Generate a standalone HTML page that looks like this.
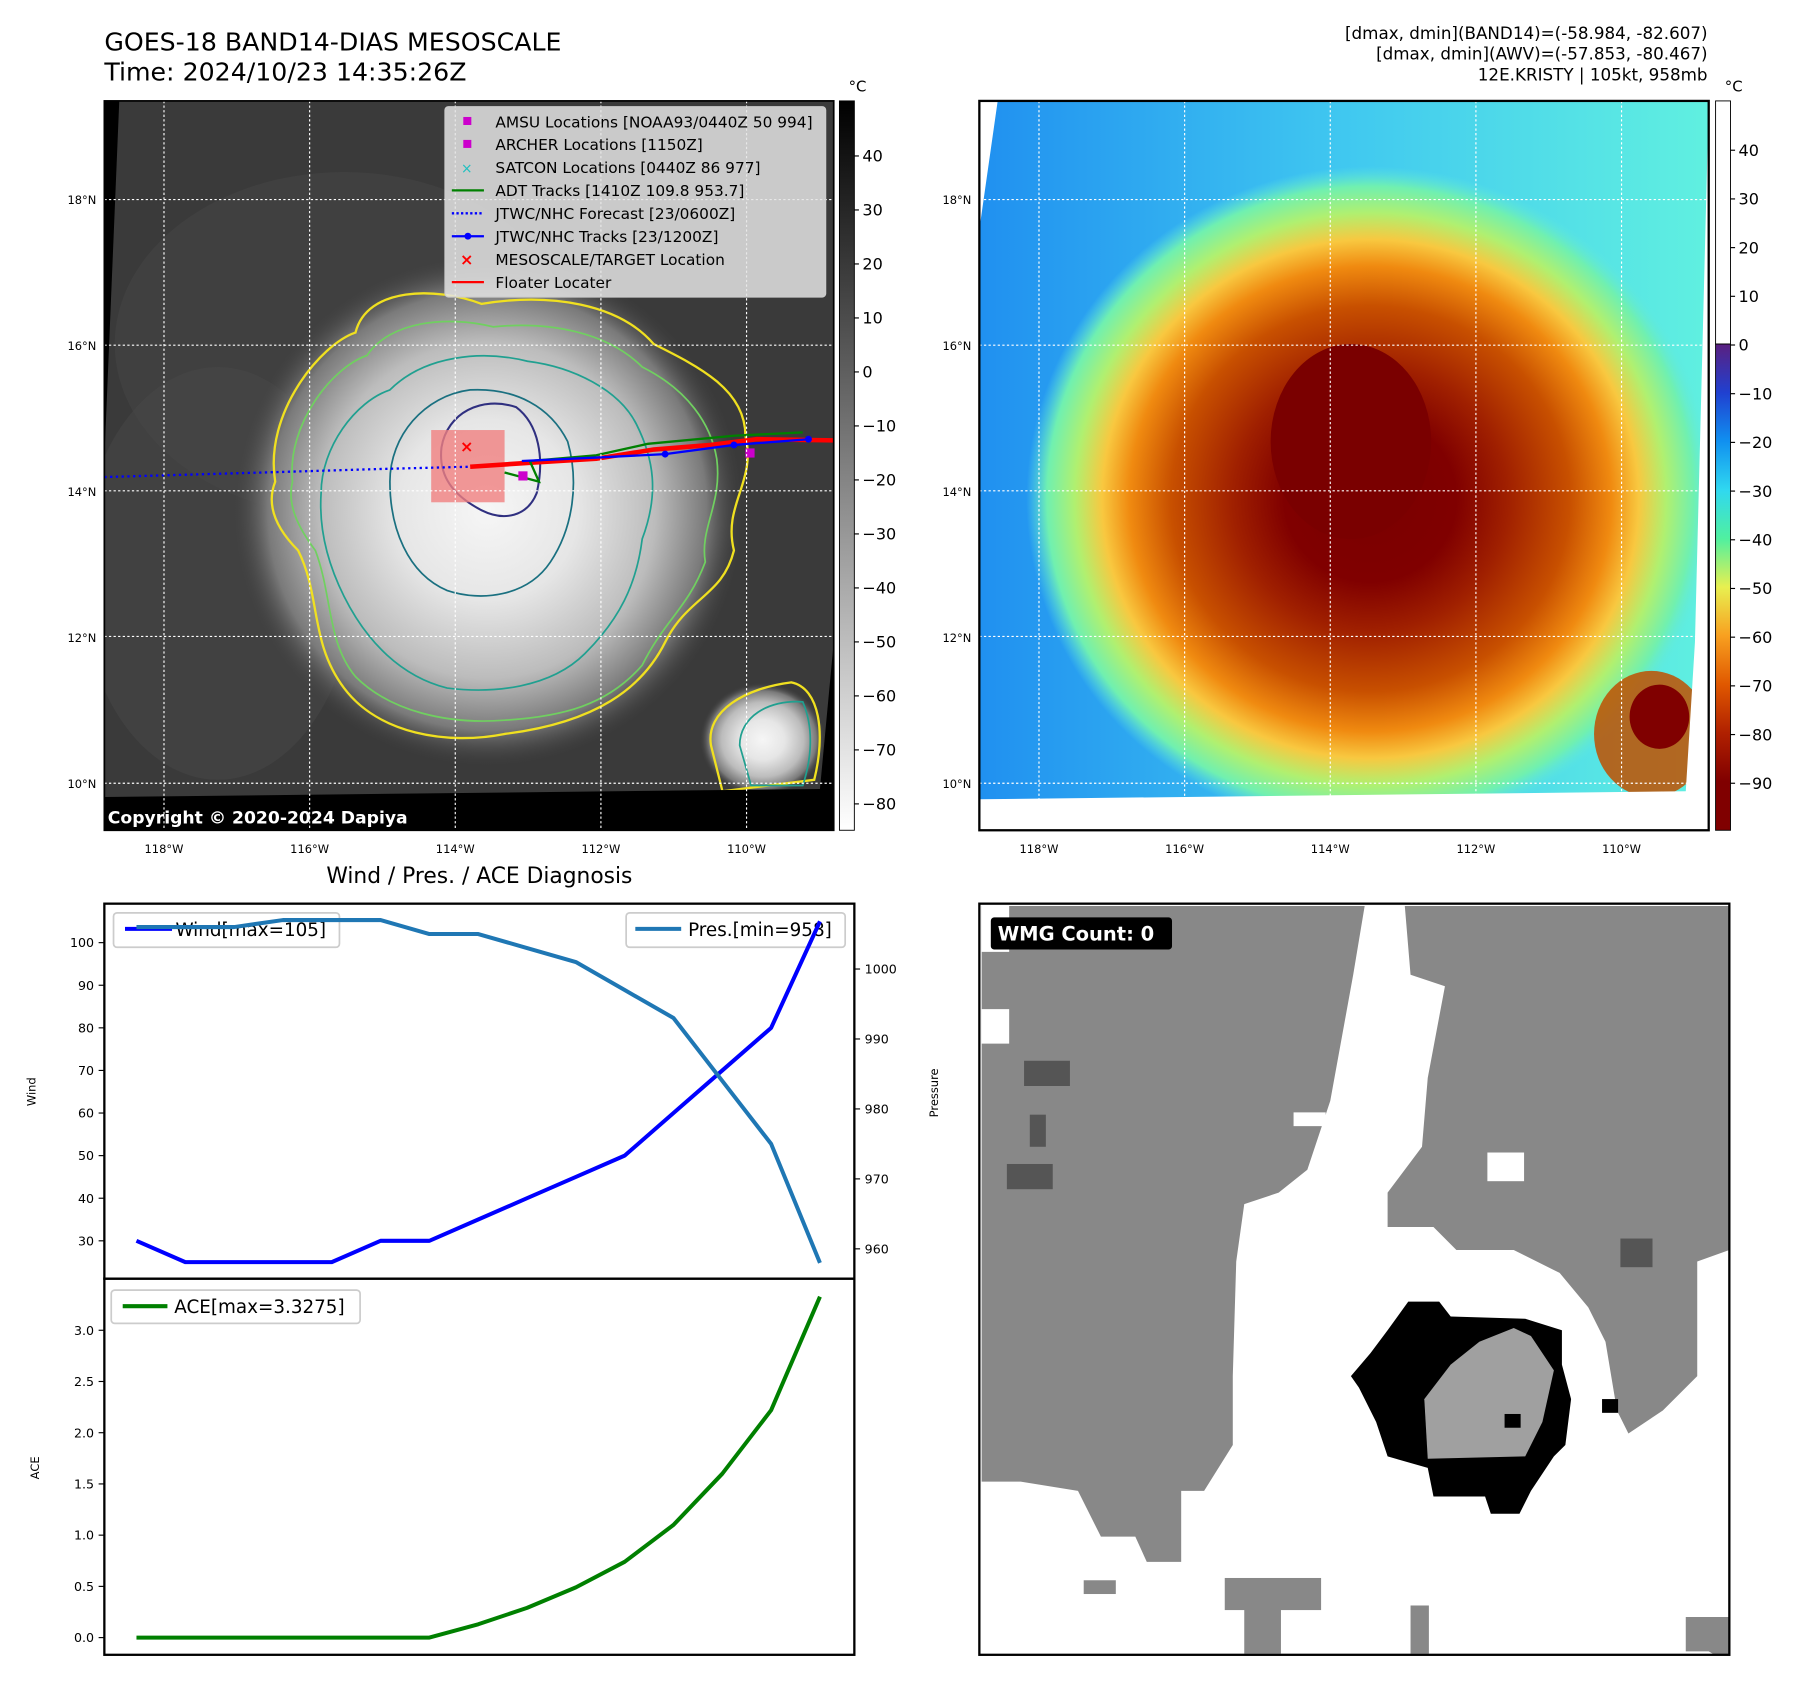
<!DOCTYPE html>
<html><head><meta charset="utf-8">
<style>
html,body{margin:0;padding:0;background:#fff;overflow:hidden}
#root{position:absolute;left:0;top:0;width:1567px;height:1474px;transform:scale(1.14678);transform-origin:0 0;font-family:"DejaVu Sans","Liberation Sans",sans-serif}
svg text{font-family:"DejaVu Sans","Liberation Sans",sans-serif}
</style></head><body>
<div id="root">
<svg id="fig" width="1567" height="1474" viewBox="0 0 1567 1474" xmlns="http://www.w3.org/2000/svg">
<defs>
<radialGradient id="cloud" cx="0.5" cy="0.5" r="0.5">
<stop offset="0" stop-color="#f6f6f6"/><stop offset="0.35" stop-color="#e6e6e6"/><stop offset="0.65" stop-color="#bcbcbc"/><stop offset="0.85" stop-color="#7a7a7a"/><stop offset="1" stop-color="#3a3a3a" stop-opacity="0"/>
</radialGradient>
<radialGradient id="storm" cx="0.5" cy="0.5" r="0.5">
<stop offset="0" stop-color="#7a0000"/><stop offset="0.25" stop-color="#800000"/><stop offset="0.4" stop-color="#a02000"/><stop offset="0.58" stop-color="#c85000"/><stop offset="0.7" stop-color="#f08a10"/><stop offset="0.78" stop-color="#f8c840"/><stop offset="0.86" stop-color="#b0f070"/><stop offset="0.94" stop-color="#70f0b0"/><stop offset="1" stop-color="#60e8e0" stop-opacity="0"/>
</radialGradient>
<linearGradient id="bgblue" x1="0" y1="0" x2="1" y2="0">
<stop offset="0" stop-color="#2090f0"/><stop offset="0.5" stop-color="#40c8f0"/><stop offset="1" stop-color="#60f0e0"/>
</linearGradient>
<linearGradient id="cbgray" x1="0" y1="0" x2="0" y2="1">
<stop offset="0" stop-color="#000"/><stop offset="1" stop-color="#fff"/>
</linearGradient>
<linearGradient id="cbturbo" x1="0" y1="0" x2="0" y2="1">
<stop offset="0" stop-color="#5a2080"/><stop offset="0.1" stop-color="#2040d0"/><stop offset="0.2" stop-color="#1090f0"/><stop offset="0.3" stop-color="#30d8f0"/><stop offset="0.4" stop-color="#50f0a0"/><stop offset="0.5" stop-color="#e8f050"/><stop offset="0.6" stop-color="#f8a020"/><stop offset="0.7" stop-color="#e05800"/><stop offset="0.8" stop-color="#b02000"/><stop offset="0.9" stop-color="#800000"/><stop offset="1" stop-color="#800000"/>
</linearGradient>
<clipPath id="clipL"><rect x="91" y="88" width="636" height="636"/></clipPath>
<clipPath id="clipR"><rect x="854" y="88" width="636" height="636"/></clipPath>
</defs>

<text x="91" y="44" font-size="22">GOES-18 BAND14-DIAS MESOSCALE</text>
<text x="91" y="70" font-size="22">Time: 2024/10/23 14:35:26Z</text>
<g font-size="14.6" text-anchor="end">
<text x="1489" y="34">[dmax, dmin](BAND14)=(-58.984, -82.607)</text>
<text x="1489" y="52">[dmax, dmin](AWV)=(-57.853, -80.467)</text>
<text x="1489" y="70">12E.KRISTY | 105kt, 958mb</text>
</g>

<!-- LEFT MAP -->
<g clip-path="url(#clipL)">
<rect x="91" y="88" width="636" height="636" fill="#3a3a3a"/>
<ellipse cx="300" cy="300" rx="200" ry="150" fill="#444" opacity="0.6"/>
<ellipse cx="190" cy="500" rx="120" ry="180" fill="#484848" opacity="0.5"/>
<ellipse cx="425" cy="445" rx="225" ry="225" fill="url(#cloud)"/>
<ellipse cx="665" cy="645" rx="55" ry="50" fill="url(#cloud)"/>
<path d="M240,420 C230,360 280,300 310,290 C320,250 380,250 420,265 C480,255 540,265 570,300 C610,320 650,340 650,380 C660,420 630,440 640,480 C630,520 600,520 580,560 C560,600 520,630 440,640 C390,650 330,640 300,600 C270,560 280,520 260,480 C240,460 232,440 240,420Z" fill="none" stroke="#f0e020" stroke-width="2"/>
<path d="M255,420 C250,370 290,320 320,310 C340,280 390,275 430,285 C480,280 530,290 560,320 C600,340 620,370 625,400 C630,440 610,460 615,490 C600,530 580,540 560,580 C530,615 490,625 440,628 C390,632 340,620 310,590 C285,560 290,520 275,480 C260,460 250,440 255,420Z" fill="none" stroke="#70d060" stroke-width="1.5"/>
<path d="M280,430 C280,390 310,350 340,340 C370,310 420,305 460,315 C500,320 540,340 555,370 C570,400 575,430 560,470 C555,510 540,540 510,570 C480,600 430,605 390,600 C350,590 320,560 300,520 C285,490 278,460 280,430Z" fill="none" stroke="#20a090" stroke-width="1.5"/>
<path d="M340,420 C340,380 370,345 410,340 C450,338 480,355 495,385 C505,420 500,460 480,490 C460,520 420,525 390,515 C355,500 340,460 340,420Z" fill="none" stroke="#1a7080" stroke-width="1.5"/>
<path d="M385,390 C390,360 420,345 450,355 C470,370 475,400 468,430 C460,450 440,455 420,445 C395,432 382,415 385,390Z" fill="none" stroke="#303080" stroke-width="1.8"/>
<path d="M620,650 C615,620 650,600 690,595 C715,600 720,640 710,680 L630,690Z" fill="none" stroke="#f0e020" stroke-width="2"/>
<path d="M645,650 C645,625 670,610 700,612 C712,640 705,670 700,685 L655,685Z" fill="none" stroke="#20a090" stroke-width="1.5"/>
<polygon points="91,88 104,88 91,400" fill="#000"/>
<polygon points="91,695 715,688 727,560 727,724 91,724" fill="#000"/>
<rect x="376" y="375" width="64" height="63" fill="#f08080" opacity="0.8"/>
<polyline points="91,416 230,412 330,409 410,407" fill="none" stroke="#0000ff" stroke-width="2" stroke-dasharray="2,3"/>
<polyline points="410,407 470,403 520,400 570,392 620,388 660,383 727,384" fill="none" stroke="#ff0000" stroke-width="4"/>
<polyline points="440,412 470,420 462,402 520,397 565,387 640,380 700,377" fill="none" stroke="#008000" stroke-width="2"/>
<polyline points="455,402 520,399 580,396 640,388 705,383" fill="none" stroke="#0000ff" stroke-width="2"/>
<circle cx="580" cy="396" r="3" fill="#0000ff"/><circle cx="640" cy="388" r="3" fill="#0000ff"/><circle cx="705" cy="383" r="3" fill="#0000ff"/>
<rect x="452" y="411" width="8" height="8" fill="#cc00cc"/><rect x="650" y="391" width="8" height="8" fill="#cc00cc"/>
<text x="407" y="394" font-size="14" fill="#ff0000" text-anchor="middle" font-weight="bold">×</text>
<g stroke="#fff" stroke-width="1" stroke-dasharray="2,2">
<line x1="143" y1="88" x2="143" y2="724"/><line x1="270" y1="88" x2="270" y2="724"/><line x1="397" y1="88" x2="397" y2="724"/><line x1="524" y1="88" x2="524" y2="724"/><line x1="651" y1="88" x2="651" y2="724"/>
<line x1="91" y1="174" x2="727" y2="174"/><line x1="91" y1="301" x2="727" y2="301"/><line x1="91" y1="428" x2="727" y2="428"/><line x1="91" y1="555" x2="727" y2="555"/><line x1="91" y1="683" x2="727" y2="683"/>
</g>
<text x="94" y="718" font-size="15" font-weight="bold" fill="#fff">Copyright © 2020-2024 Dapiya</text>
</g>
<rect x="91" y="88" width="636" height="636" fill="none" stroke="#000" stroke-width="1.5"/>
<g font-size="13.4">
<rect x="388" y="93" width="332" height="166" rx="3" fill="#e4e4e4" fill-opacity="0.85" stroke="#ccc"/>
<rect x="404" y="102" width="7" height="7" fill="#cc00cc"/><text x="432" y="111">AMSU Locations [NOAA93/0440Z 50 994]</text>
<rect x="404" y="122" width="7" height="7" fill="#cc00cc"/><text x="432" y="131">ARCHER Locations [1150Z]</text>
<text x="407" y="151" fill="#20c0c0" text-anchor="middle" font-size="12">×</text><text x="432" y="151">SATCON Locations [0440Z 86 977]</text>
<line x1="394" y1="166" x2="422" y2="166" stroke="#008000" stroke-width="2"/><text x="432" y="171">ADT Tracks [1410Z 109.8 953.7]</text>
<line x1="394" y1="186" x2="422" y2="186" stroke="#0000ff" stroke-width="2" stroke-dasharray="2,2"/><text x="432" y="191">JTWC/NHC Forecast [23/0600Z]</text>
<line x1="394" y1="206" x2="422" y2="206" stroke="#0000ff" stroke-width="2"/><circle cx="408" cy="206" r="3" fill="#0000ff"/><text x="432" y="211">JTWC/NHC Tracks [23/1200Z]</text>
<text x="407" y="231" fill="#ff0000" text-anchor="middle" font-weight="bold" font-size="14">×</text><text x="432" y="231">MESOSCALE/TARGET Location</text>
<line x1="394" y1="246" x2="422" y2="246" stroke="#ff0000" stroke-width="2"/><text x="432" y="251">Floater Locater</text>
</g>
<rect x="732" y="88" width="13" height="636" fill="url(#cbgray)" stroke="#000" stroke-width="0.8"/>
<text x="740" y="80" font-size="13">°C</text>
<g id="cbL" font-size="14"></g>

<!-- RIGHT MAP -->
<g clip-path="url(#clipR)">
<rect x="854" y="88" width="636" height="636" fill="url(#bgblue)"/>
<ellipse cx="1195" cy="435" rx="300" ry="290" fill="url(#storm)"/>
<ellipse cx="1440" cy="640" rx="50" ry="55" fill="#c05000" opacity="0.85"/>
<ellipse cx="1447" cy="625" rx="26" ry="28" fill="#800000"/>
<ellipse cx="1178" cy="385" rx="70" ry="85" fill="#7a0000"/>
<polygon points="854,88 870,88 854,200" fill="#fff"/>
<polygon points="854,697 1470,690 1478,560 1490,88 1490,724 854,724" fill="#fff"/>
<g stroke="#fff" stroke-width="1" stroke-dasharray="2,2">
<line x1="906" y1="88" x2="906" y2="724"/><line x1="1033" y1="88" x2="1033" y2="724"/><line x1="1160" y1="88" x2="1160" y2="724"/><line x1="1287" y1="88" x2="1287" y2="724"/><line x1="1414" y1="88" x2="1414" y2="724"/>
<line x1="854" y1="174" x2="1490" y2="174"/><line x1="854" y1="301" x2="1490" y2="301"/><line x1="854" y1="428" x2="1490" y2="428"/><line x1="854" y1="555" x2="1490" y2="555"/><line x1="854" y1="683" x2="1490" y2="683"/>
</g>
</g>
<rect x="854" y="88" width="636" height="636" fill="none" stroke="#000" stroke-width="2"/>
<rect x="1496" y="88" width="13" height="212" fill="#fff" stroke="#000" stroke-width="0.8"/>
<rect x="1496" y="300" width="13" height="424" fill="url(#cbturbo)" stroke="#000" stroke-width="0.8"/>
<text x="1504" y="80" font-size="13">°C</text>
<g id="cbR" font-size="14"></g>
<g id="mapTicks" font-size="10"></g>

<!-- WMG -->
<g>
<rect x="854" y="788" width="654" height="655" fill="#fff"/>
<polygon points="856,790 1190,790 1180,850 1160,960 1140,1020 1115,1040 1085,1050 1078,1100 1075,1200 1075,1260 1050,1300 1030,1300 1030,1362 1000,1362 990,1340 960,1340 940,1300 890,1292 856,1292" fill="#888"/>
<polygon points="856,790 880,790 880,830 856,830" fill="#fff"/>
<polygon points="856,880 880,880 880,910 856,910" fill="#fff"/>
<polygon points="1225,790 1508,790 1508,1090 1480,1100 1480,1200 1450,1230 1420,1250 1410,1230 1405,1200 1400,1170 1385,1140 1360,1110 1320,1090 1270,1090 1250,1070 1210,1070 1210,1040 1240,1000 1245,940 1260,860 1230,850" fill="#888"/>
<rect x="1297" y="1005" width="32" height="25" fill="#fff"/><rect x="1128" y="970" width="28" height="12" fill="#fff"/>
<rect x="1413" y="1080" width="28" height="25" fill="#555"/><rect x="893" y="925" width="40" height="22" fill="#555"/><rect x="878" y="1015" width="40" height="22" fill="#555"/><rect x="898" y="972" width="14" height="28" fill="#555"/>
<rect x="1068" y="1376" width="84" height="28" fill="#888"/><rect x="1085" y="1400" width="32" height="42" fill="#888"/><rect x="945" y="1378" width="28" height="12" fill="#888"/><rect x="1230" y="1400" width="16" height="42" fill="#888"/>
<polygon points="1470,1410 1508,1410 1508,1443 1495,1443 1490,1440 1470,1440" fill="#888"/>
<polygon points="1228,1135 1255,1135 1265,1148 1330,1150 1362,1160 1362,1190 1370,1220 1365,1260 1355,1270 1335,1300 1325,1320 1300,1320 1295,1305 1250,1305 1245,1280 1210,1270 1200,1240 1185,1210 1178,1200 1195,1180 1210,1160" fill="#000"/>
<polygon points="1320,1158 1335,1165 1355,1195 1345,1240 1330,1270 1245,1272 1242,1220 1265,1190 1290,1170" fill="#a0a0a0"/>
<rect x="1312" y="1233" width="14" height="12" fill="#000"/><rect x="1397" y="1220" width="14" height="12" fill="#000"/>
<rect x="854" y="788" width="654" height="655" fill="none" stroke="#000" stroke-width="2"/>
<rect x="864" y="800" width="158" height="28" rx="3" fill="#000"/>
<text x="870" y="820" font-size="17" font-weight="bold" fill="#fff">WMG Count: 0</text>
</g>

<!-- DIAGNOSIS CHART -->
<text x="418" y="770" font-size="19" text-anchor="middle">Wind / Pres. / ACE Diagnosis</text>
<g id="chart"></g>
</svg>
</div>
<script>
const windVals=[30,25,25,25,25,30,30,35,40,45,50,60,70,80,105];
const presVals=[1006,1006,1006,1007,1007,1007,1005,1005,1003,1001,997,993,984,975,958];
const aceVals=[0,0,0,0,0,0,0,0.13,0.29,0.49,0.74,1.1,1.6,2.22,3.3275];
const windTicks=[30,40,50,60,70,80,90,100];
const presTicks=[960,970,980,990,1000];
const aceTicks=[0,0.5,1.0,1.5,2.0,2.5,3.0];
const cbLTicks=[40,30,20,10,0,-10,-20,-30,-40,-50,-60,-70,-80];
const cbRTicks=[40,30,20,10,0,-10,-20,-30,-40,-50,-60,-70,-80,-90];
const latTicks=[18,16,14,12,10];
const lonTicks=[118,116,114,112,110];

const NS='http://www.w3.org/2000/svg';
function mk(tag,attrs,parent,txt){const e=document.createElementNS(NS,tag);for(const k in attrs)e.setAttribute(k,attrs[k]);if(txt!==undefined)e.textContent=txt;parent.appendChild(e);return e;}
const xS=i=>119+i*(715-119)/(windVals.length-1);
const yW=v=>1082+(v-30)*(822-1082)/70;
const yP=v=>1089+(v-960)*(845-1089)/40;
const yA=v=>1428+(v-0)*(1160-1428)/3;
const yLat=v=>683+(v-10)*(174-683)/8;
const xLonL=v=>651+(v-110)*(143-651)/8;
const yCbL=v=>701+(v+80)*(136-701)/120;
const yCbR=v=>683+(v+90)*(131-683)/130;

const ch=document.getElementById('chart');
let r1=mk('rect',{x:91,y:788,width:654,height:327,fill:'none',stroke:'#000','stroke-width':2},ch);


let r2=mk('rect',{x:91,y:1115,width:654,height:328,fill:'none',stroke:'#000','stroke-width':2},ch);


windTicks.forEach(t=>{const y=yW(t);mk('line',{x1:86,y1:y,x2:91,y2:y,stroke:'#000'},ch);mk('text',{x:82,y:y+4,'font-size':11,'text-anchor':'end'},ch,t);});
presTicks.forEach(t=>{const y=yP(t);mk('line',{x1:745,y1:y,x2:750,y2:y,stroke:'#000'},ch);mk('text',{x:754,y:y+4,'font-size':11},ch,t);});
aceTicks.forEach(t=>{const y=yA(t);mk('line',{x1:86,y1:y,x2:91,y2:y,stroke:'#000'},ch);mk('text',{x:82,y:y+4,'font-size':11,'text-anchor':'end'},ch,t.toFixed(1));});
let t1=mk('text',{x:0,y:0,'font-size':10,'text-anchor':'middle',transform:'translate(31,952) rotate(-90)'},ch,'Wind');


let t2=mk('text',{x:0,y:0,'font-size':10,'text-anchor':'middle',transform:'translate(818,953) rotate(-90)'},ch,'Pressure');


let t3=mk('text',{x:0,y:0,'font-size':10,'text-anchor':'middle',transform:'translate(34,1280) rotate(-90)'},ch,'ACE');


let lg1=mk('rect',{x:99,y:796,width:197,height:30,rx:3,fill:'#fff','fill-opacity':0.8,stroke:'#ccc','stroke-width':1.5},ch);


let lg2=mk('rect',{x:546,y:796,width:191,height:30,rx:3,fill:'#fff','fill-opacity':0.8,stroke:'#ccc','stroke-width':1.5},ch);


let lg3=mk('rect',{x:97,y:1125,width:217,height:29,rx:3,fill:'#fff','fill-opacity':0.8,stroke:'#ccc','stroke-width':1.5},ch);


mk('line',{x1:109,y1:810,x2:150,y2:810,stroke:'#0000ff','stroke-width':3.5},ch);
mk('text',{x:153,y:816,'font-size':16},ch,'Wind[max=105]');
mk('line',{x1:554,y1:810,x2:594,y2:810,stroke:'#1f77b4','stroke-width':3.5},ch);
mk('text',{x:600,y:816,'font-size':16},ch,'Pres.[min=958]');
mk('line',{x1:107,y1:1139,x2:146,y2:1139,stroke:'#008000','stroke-width':3.5},ch);
mk('text',{x:152,y:1145,'font-size':16},ch,'ACE[max=3.3275]');
function line(vals,yf,color,name){const p=mk('polyline',{points:vals.map((v,i)=>xS(i)+','+yf(v)).join(' '),fill:'none',stroke:color,'stroke-width':3.5,'stroke-linejoin':'round'},ch);

}
line(windVals,yW,'#0000ff','wind-line');
line(presVals,yP,'#1f77b4','pressure-line');
line(aceVals,yA,'#008000','ace-line');

const cbL=document.getElementById('cbL');
cbLTicks.forEach(t=>{const y=yCbL(t);mk('line',{x1:745,y1:y,x2:749,y2:y,stroke:'#000'},cbL);mk('text',{x:752,y:y+5},cbL,t<0?'\u2212'+(-t):t);});
const cbR=document.getElementById('cbR');
cbRTicks.forEach(t=>{const y=yCbR(t);mk('line',{x1:1509,y1:y,x2:1513,y2:y,stroke:'#000'},cbR);mk('text',{x:1516,y:y+5},cbR,t<0?'\u2212'+(-t):t);});
const mt=document.getElementById('mapTicks');
[0,763].forEach(off=>{
 latTicks.forEach(v=>{const y=yLat(v);mk('text',{x:84+off,y:y+4,'text-anchor':'end'},mt,v+'°N');});
 lonTicks.forEach(v=>{const x=xLonL(v)+off;mk('text',{x:x,y:744,'text-anchor':'middle'},mt,v+'°W');});
});
</script>
</body></html>
